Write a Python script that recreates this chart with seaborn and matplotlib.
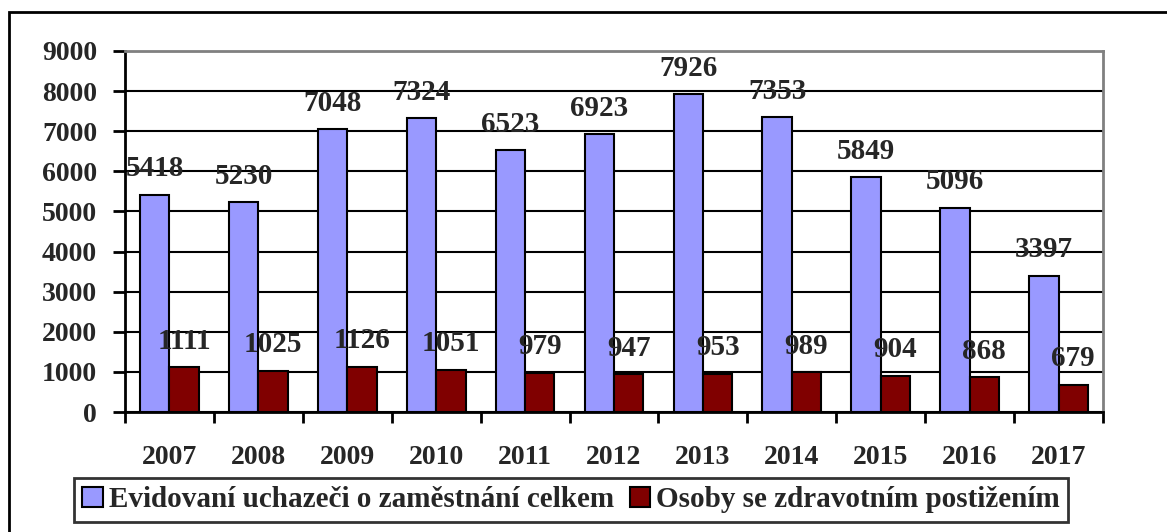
import pandas as pd
import seaborn as sns
import matplotlib.pyplot as plt
from matplotlib.patches import Rectangle

# Data
roky = ['2007', '2008', '2009', '2010', '2011', '2012', '2013', '2014', '2015', '2016', '2017']
uchazeci_celkem = [5418, 5230, 7048, 7324, 6523, 6923, 7926, 7353, 5849, 5096, 3397]
osoby_ozp = [1111, 1025, 1126, 1051, 979, 947, 953, 989, 904, 868, 679]
serie = ['Evidovaní uchazeči o zaměstnání celkem', 'Osoby se zdravotním postižením']
y_ticks = [0, 1000, 2000, 3000, 4000, 5000, 6000, 7000, 8000, 9000]

df = pd.DataFrame({
    'rok': roky * 2,
    'pocet': uchazeci_celkem + osoby_ozp,
    'serie': [serie[0]] * len(roky) + [serie[1]] * len(roky),
})

sns.set_style('white')
plt.rcParams['font.family'] = ['Liberation Serif', 'DejaVu Serif']
plt.rcParams['font.weight'] = 'bold'

fig = plt.figure(figsize=(11.67, 5.32), dpi=100)
ax = fig.add_axes([125 / 1167, 1 - 412 / 532, (1103 - 125) / 1167, (412 - 51) / 532])

sns.barplot(data=df, x='rok', y='pocet', hue='serie', hue_order=serie,
            palette=['#9999FF', '#800000'], saturation=1, width=0.66, gap=0,
            edgecolor='black', linewidth=1.5, ax=ax, zorder=3)

for cont in ax.containers:
    ax.bar_label(cont, fmt='%d', padding=9, fontsize=21, fontweight='bold')

# axes styling (Excel look)
ax.set_xlim(-0.5, len(roky) - 0.5)
ax.set_ylim(0, 9000)
ax.set_yticks(y_ticks)
ax.set_xlabel('')
ax.set_ylabel('')
ax.yaxis.grid(True, color='black', linewidth=1.5)
ax.set_axisbelow(True)
for s in ['left', 'bottom']:
    ax.spines[s].set_color('black')
    ax.spines[s].set_linewidth(2)
for s in ['top', 'right']:
    ax.spines[s].set_color('#808080')
    ax.spines[s].set_linewidth(2)

ax.set_xticks([i - 0.5 for i in range(len(roky) + 1)], minor=True)
ax.tick_params(axis='x', which='minor', length=8, width=2, color='black', direction='out', bottom=True)
ax.tick_params(axis='x', which='major', length=0, pad=24, labelsize=20)
ax.tick_params(axis='y', length=9, width=2, color='black', direction='out', left=True, pad=11, labelsize=20)
for lab in ax.get_xticklabels() + ax.get_yticklabels():
    lab.set_fontweight('bold')

# legend at the bottom
handles, labels = ax.get_legend_handles_labels()
ax.get_legend().remove()
leg = fig.legend(handles, labels, loc='lower center', bbox_to_anchor=(571 / 1167, 1 - 522 / 532),
                 ncol=2, fontsize=21, frameon=True, fancybox=False, edgecolor='black',
                 handlelength=0.7, handleheight=0.7, handletextpad=0.2, columnspacing=0.55,
                 borderpad=0.3, borderaxespad=0)
leg.get_frame().set_linewidth(2)
for t in leg.get_texts():
    t.set_fontweight('bold')

# outer chart border (only left and top visible)
fig.patches.append(Rectangle((9 / 1167, -0.1), 1.2, 1.1 - 12 / 532, transform=fig.transFigure,
                             fill=False, edgecolor='black', linewidth=2))

fig.savefig('out.png', dpi=100)
